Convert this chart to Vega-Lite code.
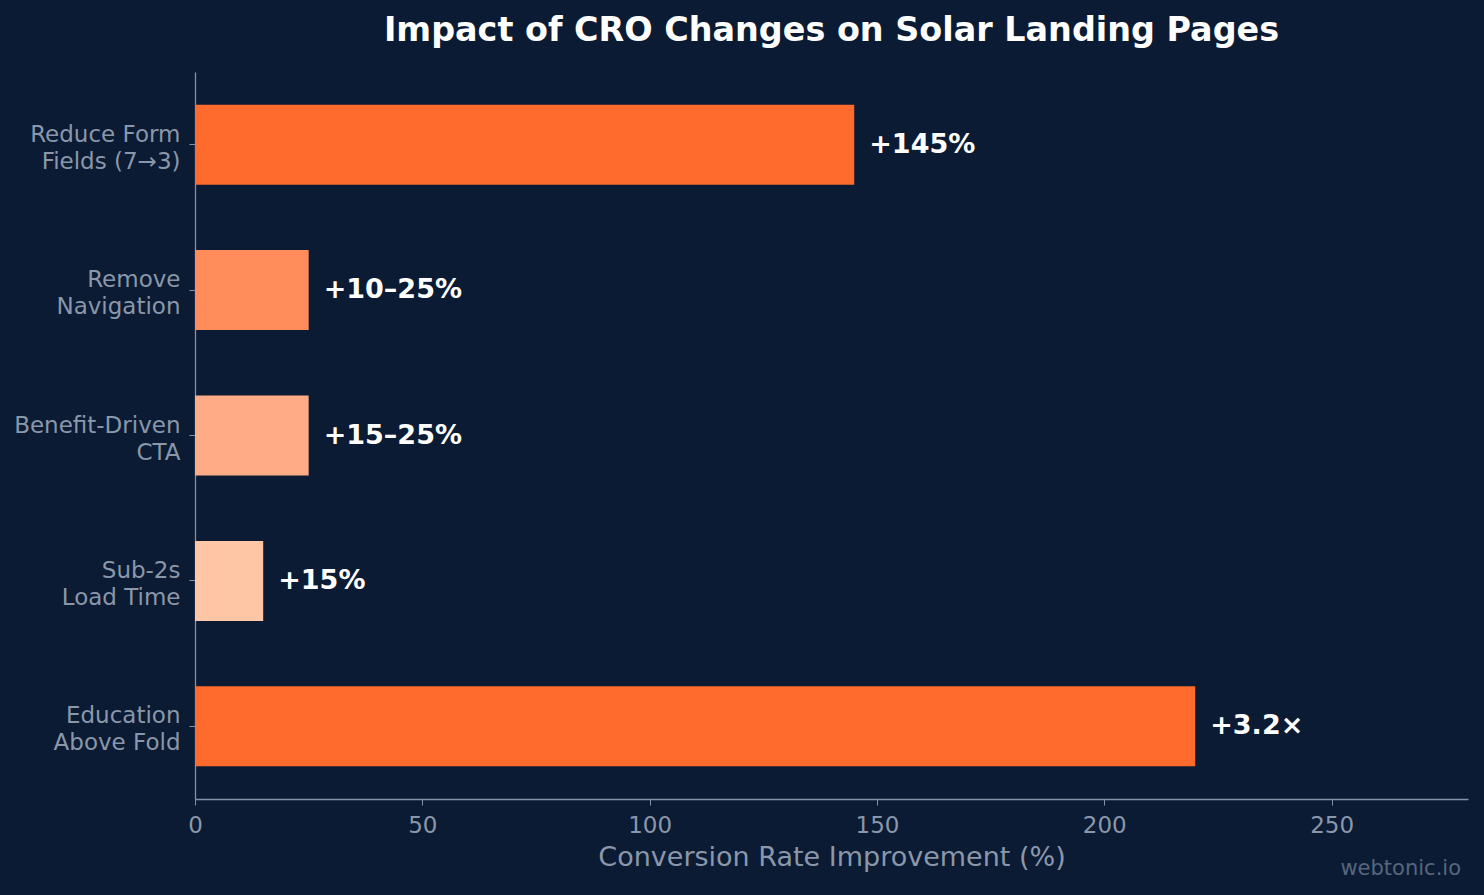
{
  "$schema": "https://vega.github.io/schema/vega-lite/v6.json",
  "width": 1273,
  "height": 727,
  "autosize": {"type": "none"},
  "padding": {"left": 195, "top": 72, "right": 16, "bottom": 96},
  "background": "#0B1B33",
  "config": {
    "view": {"stroke": null},
    "font": "DejaVu Sans"
  },
  "title": {
    "text": "Impact of CRO Changes on Solar Landing Pages",
    "font": "DejaVu Sans",
    "fontSize": 33.4,
    "fontWeight": "bold",
    "color": "#FFFFFF",
    "anchor": "middle",
    "offset": 24
  },
  "data": {
    "values": [
      {"change": "Reduce Form|Fields (7→3)", "value": 145, "label": "+145%"},
      {"change": "Remove|Navigation", "value": 25, "label": "+10–25%"},
      {"change": "Benefit-Driven|CTA", "value": 25, "label": "+15–25%"},
      {"change": "Sub-2s|Load Time", "value": 15, "label": "+15%"},
      {"change": "Education|Above Fold", "value": 220, "label": "+3.2×"}
    ]
  },
  "encoding": {
    "y": {
      "field": "change",
      "type": "nominal",
      "sort": null,
      "scale": {"paddingInner": 0.45, "paddingOuter": 0.225},
      "axis": {
        "title": null,
        "labelExpr": "split(datum.label, '|')",
        "labelColor": "#8A97AA",
        "labelFontSize": 23,
        "labelFont": "DejaVu Sans",
        "labelPadding": 9,
        "labelLineHeight": 27,
        "labelOffset": -10,
        "domainColor": "#8492A6",
        "tickColor": "#8492A6",
        "tickSize": 6,
        "domainWidth": 1.3,
        "grid": false
      }
    }
  },
  "layer": [
    {
      "mark": {"type": "bar"},
      "encoding": {
        "x": {
          "field": "value",
          "type": "quantitative",
          "scale": {"domain": [0, 280], "nice": false},
          "axis": {
            "title": "Conversion Rate Improvement (%)",
            "titleColor": "#8A97AA",
            "titleFontSize": 27,
            "titleFontWeight": "normal",
            "titleFont": "DejaVu Sans",
            "titlePadding": 7,
            "values": [0, 50, 100, 150, 200, 250],
            "labelColor": "#8A97AA",
            "labelFontSize": 23,
            "labelFont": "DejaVu Sans",
            "labelPadding": 9,
            "labelFlush": false,
            "domainColor": "#8492A6",
            "tickColor": "#8492A6",
            "tickSize": 6,
            "domainWidth": 1.3,
            "grid": false
          }
        },
        "color": {
          "field": "change",
          "type": "nominal",
          "sort": null,
          "scale": {
            "domain": ["Reduce Form|Fields (7→3)", "Remove|Navigation", "Benefit-Driven|CTA", "Sub-2s|Load Time", "Education|Above Fold"],
            "range": ["#FF6B2C", "#FF8C5A", "#FFAB85", "#FFC6A5", "#FF6B2C"]
          },
          "legend": null
        }
      }
    },
    {
      "mark": {"type": "text", "align": "left", "baseline": "middle", "dx": 15, "fontSize": 27, "fontWeight": "bold", "color": "#FFFFFF", "font": "DejaVu Sans"},
      "encoding": {
        "x": {"field": "value", "type": "quantitative"},
        "text": {"field": "label"}
      }
    },
    {
      "data": {"values": [{"note": "webtonic.io"}]},
      "mark": {"type": "text", "align": "right", "baseline": "middle", "dx": -7, "dy": 70, "fontSize": 21, "color": "#56667E", "font": "DejaVu Sans"},
      "encoding": {
        "x": {"datum": 280},
        "y": {"value": {"expr": "height"}},
        "text": {"field": "note"}
      }
    }
  ]
}
